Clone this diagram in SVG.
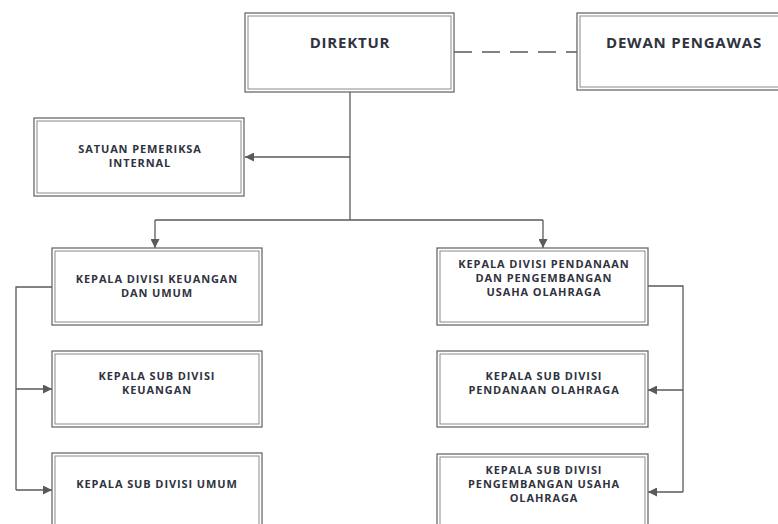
<svg xmlns="http://www.w3.org/2000/svg" width="778" height="524" viewBox="0 0 778 524">
<style>
.o{fill:#fff;stroke:#6a6a6a;stroke-width:1.3}
.i{fill:none;stroke:#8a8a8a;stroke-width:1}
.t{font-family:"Open Sans","Liberation Sans",sans-serif;font-weight:bold;fill:#2f3340;text-anchor:middle;font-size:11px;letter-spacing:0.9px}
.tb{font-size:15px;letter-spacing:0.8px}
.c{fill:none;stroke:#5a5a5a;stroke-width:1.3}
</style>
<defs>
<marker id="ah" viewBox="0 0 10 10" refX="10" refY="5" markerWidth="10" markerHeight="9" markerUnits="userSpaceOnUse" orient="auto">
<path d="M0,0 L10,5 L0,10 Z" fill="#5a5a5a"/>
</marker>
</defs>
<rect width="778" height="524" fill="#fff"/>
<g id="connectors">
<path class="c" d="M454,52 H577" stroke-dasharray="18,10"/>
<path class="c" d="M350,92 V220"/>
<path class="c" d="M350,157 H245" marker-end="url(#ah)"/>
<path class="c" d="M155,220 H543"/>
<path class="c" d="M155,220 V248" marker-end="url(#ah)"/>
<path class="c" d="M543,220 V248" marker-end="url(#ah)"/>
<path class="c" d="M52,287 H16 V490"/>
<path class="c" d="M16,389 H52" marker-end="url(#ah)"/>
<path class="c" d="M16,490 H52" marker-end="url(#ah)"/>
<path class="c" d="M648,286 H683 V492"/>
<path class="c" d="M683,390 H648" marker-end="url(#ah)"/>
<path class="c" d="M683,492 H648" marker-end="url(#ah)"/>
</g>
<g id="direktur">
<rect class="o" x="245" y="13" width="209" height="79"/>
<rect class="i" x="248" y="16" width="203" height="73"/>
<text class="t tb" x="350" y="48">DIREKTUR</text>
</g>
<g id="dewan">
<rect class="o" x="577" y="13" width="210" height="77"/>
<rect class="i" x="580" y="16" width="210" height="71"/>
<text class="t tb" x="684" y="48">DEWAN PENGAWAS</text>
</g>
<g id="spi">
<rect class="o" x="34" y="118" width="210" height="78"/>
<rect class="i" x="37" y="121" width="204" height="72"/>
<text class="t" x="140" y="153">SATUAN PEMERIKSA</text>
<text class="t" x="140" y="167">INTERNAL</text>
</g>
<g id="kadiv-keuangan">
<rect class="o" x="52" y="248" width="210" height="77"/>
<rect class="i" x="55" y="251" width="204" height="71"/>
<text class="t" x="157" y="283">KEPALA DIVISI KEUANGAN</text>
<text class="t" x="157" y="297">DAN UMUM</text>
</g>
<g id="subdiv-keuangan">
<rect class="o" x="52" y="351" width="210" height="76"/>
<rect class="i" x="55" y="354" width="204" height="70"/>
<text class="t" x="157" y="380">KEPALA SUB DIVISI</text>
<text class="t" x="157" y="394">KEUANGAN</text>
</g>
<g id="subdiv-umum">
<rect class="o" x="52" y="453" width="210" height="80"/>
<rect class="i" x="55" y="456" width="204" height="80"/>
<text class="t" x="157" y="488">KEPALA SUB DIVISI UMUM</text>
</g>
<g id="kadiv-pendanaan">
<rect class="o" x="437" y="248" width="211" height="77"/>
<rect class="i" x="440" y="251" width="205" height="71"/>
<text class="t" x="544" y="268">KEPALA DIVISI PENDANAAN</text>
<text class="t" x="544" y="282">DAN PENGEMBANGAN</text>
<text class="t" x="544" y="296">USAHA OLAHRAGA</text>
</g>
<g id="subdiv-pendanaan">
<rect class="o" x="437" y="351" width="211" height="76"/>
<rect class="i" x="440" y="354" width="205" height="70"/>
<text class="t" x="544" y="380">KEPALA SUB DIVISI</text>
<text class="t" x="544" y="394">PENDANAAN OLAHRAGA</text>
</g>
<g id="subdiv-pengembangan">
<rect class="o" x="437" y="454" width="211" height="80"/>
<rect class="i" x="440" y="457" width="205" height="80"/>
<text class="t" x="544" y="474">KEPALA SUB DIVISI</text>
<text class="t" x="544" y="488">PENGEMBANGAN USAHA</text>
<text class="t" x="544" y="502">OLAHRAGA</text>
</g>
</svg>
